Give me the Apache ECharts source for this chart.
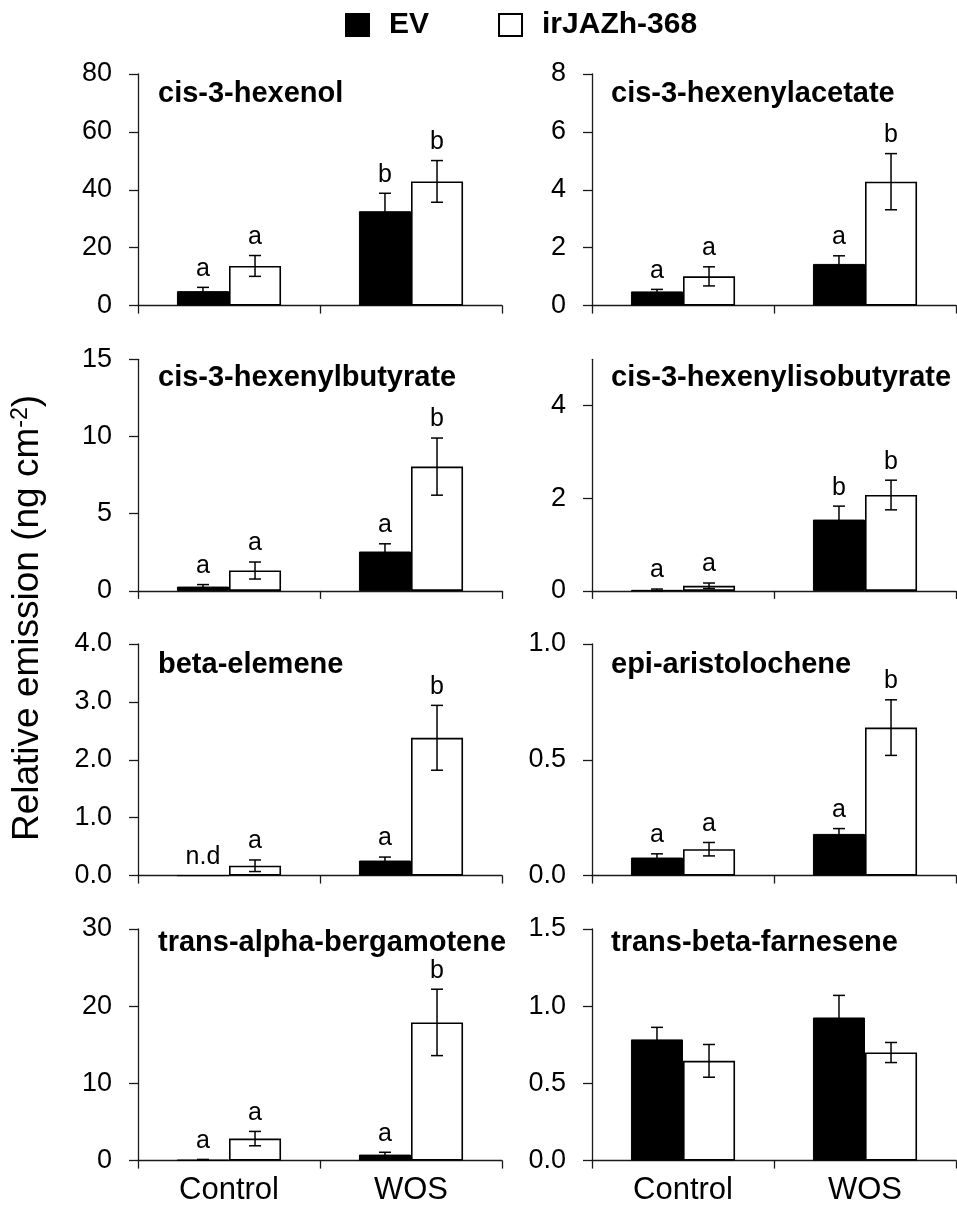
<!DOCTYPE html>
<html><head><meta charset="utf-8">
<script src="https://cdn.jsdelivr.net/npm/echarts@6/dist/echarts.min.js"></script>
<style>html,body{margin:0;padding:0;background:#fff}#c{width:957px;height:1207px}</style>
</head><body><div id="c"></div>
<script>
const categories = ['Control', 'WOS'];
const seriesNames = ['EV', 'irJAZh-368'];
const compounds = ['cis-3-hexenol','cis-3-hexenylacetate','cis-3-hexenylbutyrate','cis-3-hexenylisobutyrate','beta-elemene','epi-aristolochene','trans-alpha-bergamotene','trans-beta-farnesene'];
const evMean = [[5.0,32.6],[0.49,1.44],[0.28,2.55],[0.02,1.54],[0,0.26],[0.078,0.18],[0.1,0.78],[0.785,0.927]];
const evErr  = [[1.3,6.2],[0.07,0.28],[0.13,0.5],[0.02,0.29],[0,0.06],[0.016,0.023],[0.05,0.3],[0.078,0.143]];
const irMean = [[13.7,42.9],[1.01,4.28],[1.32,8.05],[0.11,2.07],[0.17,2.38],[0.114,0.639],[2.85,17.9],[0.646,0.70]];
const irErr  = [[3.6,7.2],[0.33,0.97],[0.55,1.85],[0.06,0.32],[0.1,0.56],[0.029,0.12],[0.93,4.3],[0.106,0.065]];
const evLetters = [['a','b'],['a','a'],['a','a'],['a','b'],['n.d','a'],['a','a'],['a','a'],['','']];
const irLetters = [['a','b'],['a','b'],['a','b'],['a','b'],['a','b'],['a','b'],['a','b'],['','']];
const yMax = [80, 8, 15, 5, 4, 1, 30, 1.5];
const yTicks = [[0,20,40,60,80],[0,2,4,6,8],[0,5,10,15],[0,2,4],[0,1,2,3,4],[0,0.5,1],[0,10,20,30],[0,0.5,1,1.5]];
const yDecimals = [0,0,0,0,1,1,0,1];

const FONT = 'Liberation Sans, Arial, Helvetica, sans-serif';
const colLeft = [138, 592];
const gridW = 364;
const rowTop = [74, 359.3, 644, 929];
const gridH = 231.6;
const titleTop = [79, 363, 650, 928];
const titleLeft = [158, 611];
const BAR_FRAC = 0.286;
const AX = '#1a1a1a';

const grids = [], xAxes = [], yAxes = [], series = [], titles = [];
for (let p = 0; p < 8; p++) {
  const col = p % 2, row = Math.floor(p / 2);
  grids.push({left: colLeft[col], top: rowTop[row], width: gridW, height: gridH});
  titles.push({text: compounds[p], left: titleLeft[col], top: titleTop[row], padding: 0,
    textStyle: {fontFamily: FONT, fontSize: 29, fontWeight: 'bold', color: '#000'}});
  xAxes.push({type: 'category', gridIndex: p, data: categories,
    axisLine: {lineStyle: {color: AX, width: 1.3}},
    axisTick: {show: true, length: 8, lineStyle: {color: AX, width: 1.3}},
    axisLabel: {show: row === 3, fontFamily: FONT, fontSize: 31, color: '#000', margin: 14},
    splitLine: {show: false}});
  const dec = yDecimals[p];
  yAxes.push({type: 'value', gridIndex: p, min: 0, max: yMax[p], interval: yTicks[p][1] - yTicks[p][0],
    axisLine: {show: true, lineStyle: {color: AX, width: 1.3}},
    axisTick: {show: true, length: 9, lineStyle: {color: AX, width: 1.3}, customValues: yTicks[p]},
    axisLabel: {fontFamily: FONT, fontSize: 27, color: '#000', margin: 26, customValues: yTicks[p],
      formatter: v => (yTicks[p].some(t => Math.abs(t - v) < 1e-9) ? Number(v).toFixed(dec) : '')},
    splitLine: {show: false}});
  series.push({name: seriesNames[0], type: 'bar', xAxisIndex: p, yAxisIndex: p, data: evMean[p],
    barWidth: (BAR_FRAC * 100) + '%', barGap: '0%',
    itemStyle: {color: '#000', borderColor: '#000', borderWidth: 1}});
  series.push({name: seriesNames[1], type: 'bar', xAxisIndex: p, yAxisIndex: p, data: irMean[p],
    barWidth: (BAR_FRAC * 100) + '%', barGap: '0%',
    itemStyle: {color: '#fff', borderColor: '#000', borderWidth: 1.6}});
  const edata = [];
  for (let g = 0; g < 2; g++) for (let c = 0; c < 2; c++) {
    edata.push([c, g === 0 ? evMean[p][c] : irMean[p][c], g === 0 ? evErr[p][c] : irErr[p][c], g]);
  }
  series.push({type: 'custom', xAxisIndex: p, yAxisIndex: p, z: 10, data: edata, silent: true,
    renderItem: function (params, api) {
      const c = api.value(0), m = api.value(1), e = api.value(2), g = api.value(3);
      const band = api.size([1, 0])[0];
      const off = band * BAR_FRAC / 2 * (g === 0 ? -1 : 1);
      const topPt = api.coord([c, m + e]);
      const botPt = api.coord([c, Math.max(0, m - e)]);
      const x = topPt[0] + off;
      const ls = {stroke: '#000', lineWidth: 1.5};
      const children = [];
      if (e > 0) {
        children.push({type: 'line', shape: {x1: x, y1: topPt[1], x2: x, y2: botPt[1]}, style: ls});
        children.push({type: 'line', shape: {x1: x - 6, y1: topPt[1], x2: x + 6, y2: topPt[1]}, style: ls});
        children.push({type: 'line', shape: {x1: x - 6, y1: botPt[1], x2: x + 6, y2: botPt[1]}, style: ls});
      }
      const letter = (g === 0 ? evLetters : irLetters)[p][c];
      if (letter) {
        children.push({type: 'text', style: {text: letter, x: x, y: topPt[1] - 6, align: 'center', verticalAlign: 'bottom',
          fontFamily: FONT, fontSize: 25, fill: '#000'}});
      }
      return {type: 'group', children: children};
    }});
}

const chart = echarts.init(document.getElementById('c'), null, {renderer: 'canvas'});
chart.setOption({
  animation: false,
  backgroundColor: '#fff',
  title: titles,
  legend: {data: seriesNames, left: 345, top: 10, padding: 0, icon: 'rect', itemWidth: 23, itemHeight: 22, itemGap: 69,
    textStyle: {fontFamily: FONT, fontSize: 30, fontWeight: 'bold', color: '#000', padding: [0, 0, 0, 15]}},
  grid: grids,
  xAxis: xAxes,
  yAxis: yAxes,
  series: series,
  graphic: [{type: 'text', x: 28, y: 618, rotation: Math.PI / 2,
    style: {text: '{n|Relative emission (ng cm}{s|-2}{n|)}', align: 'center', verticalAlign: 'middle',
      rich: {n: {fontFamily: FONT, fontSize: 37, fill: '#000'}, s: {fontFamily: FONT, fontSize: 23, fill: '#000', verticalAlign: 'top'}}}}]
});
</script></body></html>
